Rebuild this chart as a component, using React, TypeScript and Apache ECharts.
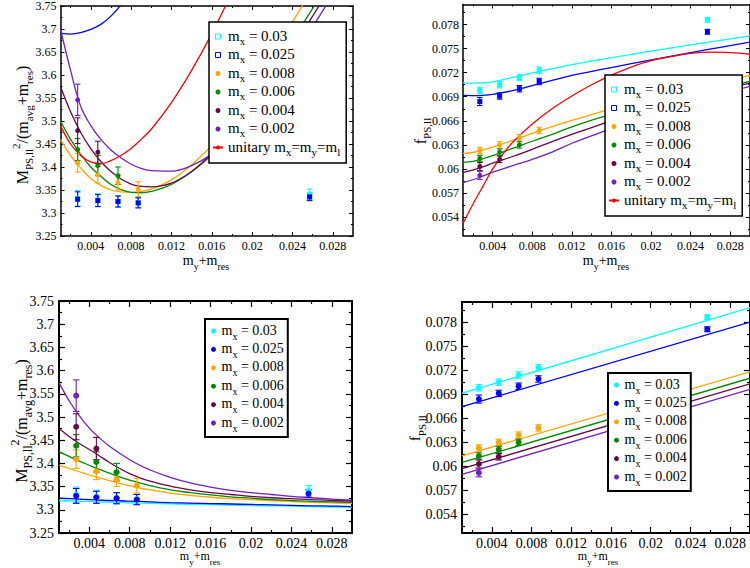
import React, { useEffect, useRef } from "react";
import * as echarts from "echarts";

const FONT = "Liberation Serif";

// ---------------- data ----------------
const mxValues = ["0.03", "0.025", "0.008", "0.006", "0.004", "0.002"];
const mxColors = ["#00ffff", "#0000ff", "#ffa500", "#008b00", "#670748", "#7221bc"];
const unitaryColor = "#ff0000";
const dataX = [0.0027, 0.0047, 0.0067, 0.0087, 0.0257];

// M_PS^2/(m_avg+m_res)
const mR_030 = [3.332, 3.328, 3.325, 3.323, 3.341];
const mR_025 = [3.33, 3.327, 3.325, 3.322, 3.335];
const mR_008 = [3.409, 3.383, 3.366, 3.352];
const mR_006 = [3.438, 3.403, 3.381];
const mR_004 = [3.479, 3.432];
const mR_002 = [3.546];
const mE_030 = [0.017, 0.014, 0.012, 0.011, 0.011];
const mE_025 = [0.016, 0.013, 0.012, 0.011, 0.008];
const mE_008 = [0.02, 0.018, 0.016, 0.016];
const mE_006 = [0.024, 0.022, 0.019];
const mE_004 = [0.028, 0.024];
const mE_002 = [0.034];

// f_PS
const f_030 = [0.0698, 0.0705, 0.0714, 0.0723, 0.0786];
const f_025 = [0.0684, 0.0691, 0.07, 0.0709, 0.0771];
const f_008 = [0.0623, 0.063, 0.0639, 0.0648];
const f_006 = [0.0613, 0.0621, 0.063];
const f_004 = [0.0603, 0.0612];
const f_002 = [0.0592];
const fE_030 = [0.0004, 0.0004, 0.0004, 0.0004, 0.0003];
const fE_025 = [0.0005, 0.0004, 0.0004, 0.0004, 0.0003];
const fE_008 = [0.0004, 0.0004, 0.0004, 0.0004];
const fE_006 = [0.0004, 0.0004, 0.0004];
const fE_004 = [0.0005, 0.0004];
const fE_002 = [0.0005];

// fit curves, panel 1 (M ratio, PQ fit) sampled at curveX
const curveX = [0.001, 0.002, 0.003, 0.004, 0.005, 0.006, 0.007, 0.008, 0.009, 0.01, 0.012, 0.014, 0.016, 0.018, 0.02, 0.022, 0.024, 0.026, 0.028, 0.03];
const pqM_025 = [3.691, 3.689, 3.692, 3.699, 3.71, 3.728, 3.753, 3.79];
const pqM_008 = [3.46, 3.425, 3.398, 3.375, 3.36, 3.35, 3.346, 3.345, 3.347, 3.352, 3.372, 3.405, 3.447, 3.5, 3.56, 3.64, 3.715, 3.787];
const pqM_006 = [3.5, 3.46, 3.428, 3.4, 3.38, 3.362, 3.351, 3.345, 3.344, 3.347, 3.362, 3.39, 3.43, 3.48, 3.54, 3.605, 3.675, 3.745, 3.815];
const pqM_004 = [3.575, 3.52, 3.475, 3.44, 3.412, 3.39, 3.374, 3.363, 3.358, 3.357, 3.365, 3.39, 3.427, 3.475, 3.53, 3.595, 3.662, 3.728, 3.8];
const pqM_002 = [3.7, 3.61, 3.532, 3.49, 3.46, 3.437, 3.42, 3.406, 3.397, 3.392, 3.391, 3.403, 3.428, 3.465, 3.515, 3.575, 3.64, 3.705, 3.775];
const unitM = [3.49, 3.45, 3.425, 3.411, 3.407, 3.414, 3.425, 3.44, 3.46, 3.482, 3.54, 3.61, 3.69, 3.78];

// panel 3 (M ratio, NLO fit) sampled at curveX
const nloM_030 = [3.32, 3.319, 3.3185, 3.318, 3.317, 3.3165, 3.316, 3.315, 3.3145, 3.314, 3.313, 3.312, 3.311, 3.31, 3.309, 3.3085, 3.308, 3.307, 3.306, 3.3055];
const nloM_025 = [3.325, 3.324, 3.323, 3.322, 3.321, 3.32, 3.3195, 3.3185, 3.318, 3.317, 3.3155, 3.3145, 3.3135, 3.3125, 3.3115, 3.3105, 3.3095, 3.3085, 3.308, 3.307];
const nloM_008 = [3.396, 3.389, 3.382, 3.375, 3.369, 3.363, 3.357, 3.352, 3.347, 3.343, 3.336, 3.331, 3.327, 3.324, 3.322, 3.32, 3.318, 3.316, 3.315, 3.314];
const nloM_006 = [3.425, 3.415, 3.405, 3.396, 3.387, 3.379, 3.371, 3.364, 3.358, 3.352, 3.343, 3.337, 3.332, 3.328, 3.325, 3.322, 3.32, 3.318, 3.317, 3.316];
const nloM_004 = [3.475, 3.458, 3.443, 3.43, 3.416, 3.402, 3.389, 3.378, 3.369, 3.362, 3.351, 3.343, 3.337, 3.333, 3.329, 3.326, 3.324, 3.322, 3.32, 3.319];
const nloM_002 = [3.574, 3.535, 3.503, 3.476, 3.455, 3.437, 3.422, 3.408, 3.396, 3.386, 3.37, 3.358, 3.349, 3.342, 3.337, 3.333, 3.329, 3.326, 3.323, 3.321];

// panel 2 (f, PQ fit)
const fCurveX = [0.001, 0.002, 0.003, 0.004, 0.006, 0.008, 0.01, 0.012, 0.015, 0.018, 0.021, 0.024, 0.027, 0.03];
const pqF_030 = [0.07074, 0.0707, 0.07072, 0.07085, 0.0714, 0.07198, 0.0725, 0.073, 0.07366, 0.07428, 0.07488, 0.07546, 0.07602, 0.07658];
const pqF_025 = [0.06917, 0.06915, 0.06918, 0.0693, 0.06975, 0.0704, 0.07105, 0.07165, 0.0724, 0.07312, 0.07382, 0.0745, 0.07516, 0.0758];
const pqF_008 = [0.06193, 0.06205, 0.06235, 0.06272, 0.06355, 0.06444, 0.06528, 0.06605, 0.06713, 0.06815, 0.0691, 0.07, 0.07085, 0.07165];
const pqF_006 = [0.06082, 0.06095, 0.06125, 0.06165, 0.06255, 0.06345, 0.0643, 0.06525, 0.06645, 0.06745, 0.0684, 0.0693, 0.07015, 0.0709];
const pqF_004 = [0.05958, 0.05985, 0.06025, 0.06072, 0.06155, 0.06245, 0.0634, 0.0643, 0.0656, 0.0668, 0.0679, 0.0689, 0.06985, 0.0707];
const pqF_002 = [0.0583, 0.05865, 0.0591, 0.0596, 0.0604, 0.0612, 0.0621, 0.0632, 0.0646, 0.0661, 0.0672, 0.0683, 0.0693, 0.0703];
const unitFX = [0.001, 0.002, 0.003, 0.004, 0.005, 0.006, 0.008, 0.01, 0.012, 0.014, 0.016, 0.018, 0.02, 0.022, 0.024, 0.026, 0.028, 0.03];
const unitF = [0.0532, 0.0556, 0.0578, 0.06, 0.0618, 0.0633, 0.0656, 0.0675, 0.0691, 0.0705, 0.0717, 0.0727, 0.0735, 0.074, 0.0744, 0.07455, 0.0745, 0.0743];

// panel 4 (f, linear fit)
const linX = [0.001, 0.03];
const linF_030 = [0.06914, 0.0798];
const linF_025 = [0.06745, 0.078];
const linF_008 = [0.06133, 0.0718];
const linF_006 = [0.06049, 0.071];
const linF_004 = [0.05973, 0.0703];
const linF_002 = [0.05901, 0.0696];

// ticks
const xMin = 0.001;
const xMax = 0.03;
const xTicks = [0.004, 0.008, 0.012, 0.016, 0.02, 0.024, 0.028];
const xMinor = [0.002, 0.006, 0.01, 0.014, 0.018, 0.022, 0.026];
const mMin = 3.25;
const mMax = 3.75;
const mTicks = [3.25, 3.3, 3.35, 3.4, 3.45, 3.5, 3.55, 3.6, 3.65, 3.7, 3.75];
const mMinor = [3.275, 3.325, 3.375, 3.425, 3.475, 3.525, 3.575, 3.625, 3.675, 3.725];
const fMin = 0.0517;
const fMax = 0.0805;
const fTicks = [0.054, 0.057, 0.06, 0.063, 0.066, 0.069, 0.072, 0.075, 0.078];
const fMinor = [0.0525, 0.0555, 0.0585, 0.0615, 0.0645, 0.0675, 0.0705, 0.0735, 0.0765, 0.0795];

// ---------------- build ----------------
const mVals = [mR_030, mR_025, mR_008, mR_006, mR_004, mR_002];
const mErrs = [mE_030, mE_025, mE_008, mE_006, mE_004, mE_002];
const fVals = [f_030, f_025, f_008, f_006, f_004, f_002];
const fErrs = [fE_030, fE_025, fE_008, fE_006, fE_004, fE_002];
const pqM = [null, pqM_025, pqM_008, pqM_006, pqM_004, pqM_002];
const nloM = [nloM_030, nloM_025, nloM_008, nloM_006, nloM_004, nloM_002];
const pqF = [pqF_030, pqF_025, pqF_008, pqF_006, pqF_004, pqF_002];
const linF = [linF_030, linF_025, linF_008, linF_006, linF_004, linF_002];

const seriesNames = mxValues.map((v) => "m_x = " + v);
const unitaryName = "unitary m_x=m_y=m_l";
const legendText: Record<string, string> = {};
mxValues.forEach((v, i) => {
  legendText[seriesNames[i]] = "{m|m}{s|x}{m| = " + v + "}";
});
legendText[unitaryName] = "{m|unitary m}{s|x}{m|=m}{s|y}{m|=m}{s|l}";

const fmt = (v: any) => String(+Number(v).toFixed(4));

function rich(main: number, sub: number, b: number, shift: number) {
  return {
    m: { fontFamily: FONT, fontSize: main, lineHeight: main + 2, padding: [b, 0, 0, 0], verticalAlign: "top", color: "#000" },
    s: { fontFamily: FONT, fontSize: sub, lineHeight: sub, padding: [b + shift, 0, 0, 0], verticalAlign: "top", color: "#000" },
    u: { fontFamily: FONT, fontSize: sub, lineHeight: sub, padding: [0, 0, 0, 0], verticalAlign: "top", color: "#000" },
  };
}

const grids = [
  { left: 60.5, top: 4, width: 292.5, height: 232 },
  { left: 463, top: 4.5, width: 291, height: 231 },
  { left: 59, top: 301, width: 293, height: 232 },
  { left: 462, top: 302, width: 291, height: 231 },
];

const topStyle = { lw: 1.5, tw: 1, major: 4, minor: 2, fs: 12, xm: 4, ym: 4 };
const botStyle = { lw: 2, tw: 1.2, major: 6, minor: 3, fs: 14, xm: 3, ym: 5 };

function axesFor(p: number, dim: "x" | "y", min: number, max: number, majors: number[], minors: number[], st: any) {
  const pos = dim === "x" ? ["bottom", "top"] : ["left", "right"];
  const base = { type: "value", gridIndex: p, min, max, splitLine: { show: false }, scale: true };
  const line = { show: true, onZero: false, lineStyle: { color: "#000", width: st.lw } };
  const noLine = { show: false, onZero: false };
  const ts = { color: "#000", width: st.tw };
  return [
    {
      ...base, position: pos[0], axisLine: line,
      axisTick: { show: true, inside: true, length: st.major, customValues: majors, lineStyle: ts },
      axisLabel: { show: true, customValues: majors, formatter: fmt, fontFamily: FONT, fontSize: st.fs, color: "#000", margin: dim === "x" ? st.xm : st.ym },
    },
    { ...base, position: pos[0], axisLine: noLine, axisTick: { show: true, inside: true, length: st.minor, customValues: minors, lineStyle: ts }, axisLabel: { show: false } },
    { ...base, position: pos[1], axisLine: line, axisTick: { show: true, inside: true, length: st.major, customValues: majors, lineStyle: ts }, axisLabel: { show: false } },
    { ...base, position: pos[1], axisLine: noLine, axisTick: { show: true, inside: true, length: st.minor, customValues: minors, lineStyle: ts }, axisLabel: { show: false } },
  ];
}

function errRender(color: string, cap: number) {
  return (params: any, api: any) => {
    const x = api.value(0);
    const y = api.value(1);
    const e = api.value(2);
    const a = api.coord([x, y + e]);
    const b = api.coord([x, y - e]);
    const style = { stroke: color, lineWidth: 1.1 };
    return {
      type: "group",
      children: [
        { type: "line", shape: { x1: a[0], y1: a[1], x2: b[0], y2: b[1] }, style },
        { type: "line", shape: { x1: a[0] - cap, y1: a[1], x2: a[0] + cap, y2: a[1] }, style },
        { type: "line", shape: { x1: b[0] - cap, y1: b[1], x2: b[0] + cap, y2: b[1] }, style },
      ],
    };
  };
}

function zip(xs: number[], ys: number[]) {
  const n = Math.min(xs.length, ys.length);
  const out: number[][] = [];
  for (let k = 0; k < n; k++) out.push([xs[k], ys[k]]);
  return out;
}

const squareIcon = "path://M0,0H10V10H0Z";

function buildOption() {
  const xAxis: any[] = [];
  const yAxis: any[] = [];
  const series: any[] = [];
  const legend: any[] = [];

  const legendPos = [
    { left: 209, top: 22 },
    { left: 605, top: 75 },
    { left: 205, top: 319 },
    { left: 608, top: 373 },
  ];

  for (let p = 0; p < 4; p++) {
    const isM = p % 2 === 0;
    const isTop = p < 2;
    const st = isTop ? topStyle : botStyle;
    xAxis.push(...axesFor(p, "x", xMin, xMax, xTicks, xMinor, st));
    yAxis.push(...axesFor(p, "y", isM ? mMin : fMin, isM ? mMax : fMax, isM ? mTicks : fTicks, isM ? mMinor : fMinor, st));
    const ax = { xAxisIndex: 4 * p, yAxisIndex: 4 * p };

    // fits
    const fitSet = p === 0 ? pqM : p === 1 ? pqF : p === 2 ? nloM : linF;
    const fitX = p === 1 ? fCurveX : p === 3 ? linX : curveX;
    fitSet.forEach((ys, i) => {
      if (!ys) return;
      series.push({
        ...ax, type: "line", name: "fit-" + p + "-" + i, data: zip(fitX, ys as number[]),
        smooth: p === 3 ? false : 0.4, symbol: "none", showSymbol: false, clip: true, z: 2,
        lineStyle: { color: mxColors[i], width: 1.3 }, itemStyle: { color: mxColors[i] }, silent: true,
      });
    });
    if (p === 0 || p === 1) {
      series.push({
        ...ax, type: "line", name: unitaryName, data: p === 0 ? zip(curveX, unitM) : zip(unitFX, unitF),
        smooth: 0.4, symbol: "none", showSymbol: false, clip: true, z: 3,
        lineStyle: { color: unitaryColor, width: 1.3 }, itemStyle: { color: unitaryColor },
      });
    }

    // data points
    const vals = isM ? mVals : fVals;
    const errs = isM ? mErrs : fErrs;
    vals.forEach((ys, i) => {
      const es = errs[i];
      const pts = ys.map((y, k) => [dataX[k], y, es[k]]);
      series.push({
        ...ax, type: "custom", name: "err-" + p + "-" + i, data: pts,
        encode: { x: 0, y: 1 }, renderItem: errRender(mxColors[i], isTop ? 2.8 : 3.3), z: 4, silent: true,
      });
      const square = isTop && i < 2;
      series.push({
        ...ax, type: "scatter", name: seriesNames[i], data: pts.map((q) => [q[0], q[1]]),
        symbol: square ? "rect" : "circle", symbolSize: isTop ? 5 : 6, z: 5,
        itemStyle: { color: mxColors[i], opacity: 1 },
      });
    });

    // legend
    const ldata: any[] = mxValues.map((v, i) => {
      const square = isTop && i < 2;
      return square
        ? { name: seriesNames[i], icon: squareIcon, itemStyle: { color: "#ffffff", borderColor: mxColors[i], borderWidth: 1 } }
        : { name: seriesNames[i], icon: "circle", itemStyle: { color: mxColors[i] } };
    });
    if (isTop) ldata.push({ name: unitaryName });
    legend.push({
      show: true, orient: "vertical", left: legendPos[p].left, top: legendPos[p].top,
      data: ldata, selectedMode: false, backgroundColor: "#ffffff", borderColor: "#000", borderWidth: isTop ? 1.5 : 2,
      padding: isTop ? [6, 6, 6, 3] : [4, 4, 4, 6], itemGap: isTop ? 0.5 : 0.4,
      itemWidth: isTop ? 10 : 6, itemHeight: 5, symbolKeepAspect: true,
      formatter: (name: string) => legendText[name] || name,
      textStyle: isTop
        ? { fontFamily: FONT, fontSize: 15, color: "#000", rich: rich(15, 11, 0, 7) }
        : { fontFamily: FONT, fontSize: 14, color: "#000", rich: rich(14, 10, 0, 8) },
      z: 10,
    });
  }

  const titleText = (x: number, y: number, text: string, main: number, sub: number, rot: boolean) => ({
    type: "text", x, y, rotation: rot ? Math.PI / 2 : 0, z: 20,
    style: { text, rich: rich(main, sub, rot ? 4 : 0, Math.round(main * 0.55)), align: "center", verticalAlign: "middle", fontFamily: FONT, fontSize: main, fill: "#000" },
  });
  const mTitle = "{m|M}{s|PS,ll}{u|2}{m|/(m}{s|avg}{m|+m}{s|res}{m|)}";
  const fTitle = "{m|f}{s|PS,ll}";
  const xTitle = "{m|m}{s|y}{m|+m}{s|res}";

  const graphic = [
    titleText(19, 125, mTitle, 16, 11, true),
    titleText(417, 131, fTitle, 16, 11, true),
    titleText(18, 421, mTitle, 16, 12, true),
    titleText(412, 428, fTitle, 14, 11, true),
    titleText(206, 261, xTitle, 14, 10, false),
    titleText(606, 261, xTitle, 14, 10, false),
    titleText(200, 557, xTitle, 12, 9, false),
    titleText(598, 557, xTitle, 12, 9, false),
  ];

  return {
    animation: false,
    backgroundColor: "#ffffff",
    grid: grids.map((g) => ({ ...g, containLabel: false, show: false })),
    xAxis,
    yAxis,
    legend,
    series,
    graphic,
  };
}

export default function App() {
  const ref = useRef<HTMLDivElement>(null);
  useEffect(() => {
    if (!ref.current) return;
    const chart = echarts.init(ref.current, null, { renderer: "svg" });
    chart.setOption(buildOption() as any);
    return () => chart.dispose();
  }, []);
  return (
    <div
      ref={ref}
      style={{ position: "fixed", left: 0, top: 0, width: 750, height: 568, background: "#fff" }}
    />
  );
}
